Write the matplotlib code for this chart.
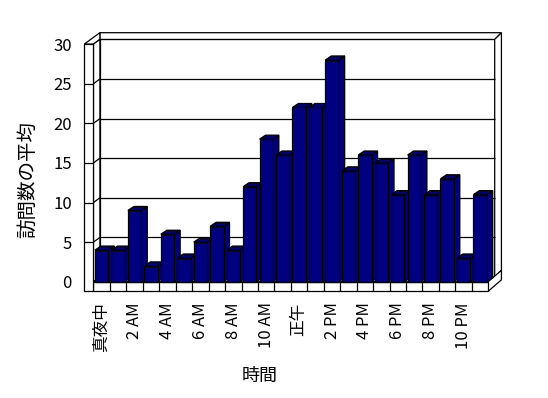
import matplotlib
matplotlib.use('Agg')
import matplotlib.pyplot as plt
from matplotlib.patches import Polygon, Rectangle

plt.rcParams['font.family'] = ['Noto Sans CJK JP', 'DejaVu Sans']

# ---- data ----
hours = list(range(24))
visits = [4, 4, 9, 2, 6, 3, 5, 7, 4, 12, 18, 16, 22, 22, 28, 14, 16, 15, 11, 16, 11, 13, 3, 11]
tick_hours = [0, 2, 4, 6, 8, 10, 12, 14, 16, 18, 20, 22]
tick_labels = ['真夜中', '2 AM', '4 AM', '6 AM', '8 AM', '10 AM', '正午',
               '2 PM', '4 PM', '6 PM', '8 PM', '10 PM']
y_ticks = [0, 5, 10, 15, 20, 25, 30]
x_label = '時間'
y_label = '訪問数の平均'

# ---- figure ----
fig = plt.figure(figsize=(5.48, 3.98), dpi=100)
ax = fig.add_axes([0, 0, 1, 1])
ax.set_xlim(-6.1824, 27.1307)
ax.set_ylim(-14.684, 35.568)

ymax = y_ticks[-1]
x0, x1 = hours[0] - 0.5, hours[-1] + 0.5
wall_t = 0.56      # left wall thickness (category units)
floor_t = 1.2      # floor thickness (value units)
dx, dy = 0.39, 0.59   # depth of the box
tx, ty = 0.41, 0.85   # back wall thickness
bar_w = 0.81
bx, by = 0.365, 0.5   # bar depth
LW = 0.9
EC = 'black'
BAR_C = '#000080'


def poly(pts, fc='white', z=1):
    ax.add_patch(Polygon(pts, closed=True, facecolor=fc, edgecolor=EC,
                         linewidth=LW, zorder=z, joinstyle='miter'))


def line(xs, ys, z=2):
    ax.plot(xs, ys, color=EC, linewidth=LW, zorder=z, solid_capstyle='butt')


# back wall
poly([(x0 + dx, dy), (x1 + dx, dy), (x1 + dx, ymax + dy), (x0 + dx, ymax + dy)])
# back wall top strip
poly([(x0 + dx, ymax + dy), (x1 + dx, ymax + dy), (x1 + dx + tx, ymax + dy + ty),
      (x0 + dx, ymax + dy + ty)])
# back wall right strip
poly([(x1 + dx, ymax + dy), (x1 + dx + tx, ymax + dy + ty), (x1 + dx + tx, dy + ty),
      (x1 + dx, dy)])
# left wall top
poly([(x0 - wall_t, ymax), (x0, ymax), (x0 + dx, ymax + dy), (x0 + dx, ymax + dy + ty)])
# left wall inner face
poly([(x0, 0), (x0, ymax), (x0 + dx, ymax + dy), (x0 + dx, dy)])
# floor top
poly([(x0, 0), (x1, 0), (x1 + dx, dy), (x0 + dx, dy)])
# floor right side
poly([(x1, 0), (x1, -floor_t), (x1 + dx + tx, -floor_t + dy + ty), (x1 + dx + tx, dy + ty)])
# floor front
ax.add_patch(Rectangle((x0, -floor_t), x1 - x0, floor_t, facecolor='white',
                       edgecolor=EC, linewidth=LW, zorder=1))
# left wall front face
ax.add_patch(Rectangle((x0 - wall_t, -floor_t), wall_t, ymax + floor_t,
                       facecolor='white', edgecolor=EC, linewidth=LW, zorder=1))
# floor dividers
for h in hours[:-1]:
    line([h + 0.5, h + 0.5], [-floor_t, 0])

# gridlines
for v in y_ticks[1:-1]:
    line([x0 + dx, x1 + dx], [v + dy, v + dy])
    line([x0, x0 + dx], [v, v + dy])
    line([x0 - wall_t, x0], [v, v])

# bars
for i, (h, v) in enumerate(zip(hours, visits)):
    z = 3 + i
    l, r = h - bar_w / 2, h + bar_w / 2
    poly([(r, 0), (r, v), (r + bx, v + by), (r + bx, by)], fc=BAR_C, z=z)
    poly([(l, v), (r, v), (r + bx, v + by), (l + bx, v + by)], fc=BAR_C, z=z)
    ax.add_patch(Rectangle((l, 0), bar_w, v, facecolor=BAR_C, edgecolor=EC,
                           linewidth=LW, zorder=z))

# axes / ticks
for s in ax.spines.values():
    s.set_visible(False)
ax.spines['left'].set_position(('data', x0 - wall_t))
ax.spines['bottom'].set_position(('data', -floor_t))
ax.set_yticks(y_ticks)
ax.set_yticklabels([str(t) for t in y_ticks])
ax.set_xticks(tick_hours)
ax.set_xticklabels(tick_labels, rotation=90)
ax.tick_params(axis='y', length=0, pad=9, labelsize=12)
ax.tick_params(axis='x', length=0, pad=8, labelsize=12)

ax.set_ylabel(y_label, fontsize=14)
ax.yaxis.set_label_coords(38 / 548, 1 - 179 / 398)
ax.set_xlabel(x_label, fontsize=13)
ax.xaxis.set_label_coords(260 / 548, 1 - 367 / 398)

fig.savefig('out.png', dpi=100)
